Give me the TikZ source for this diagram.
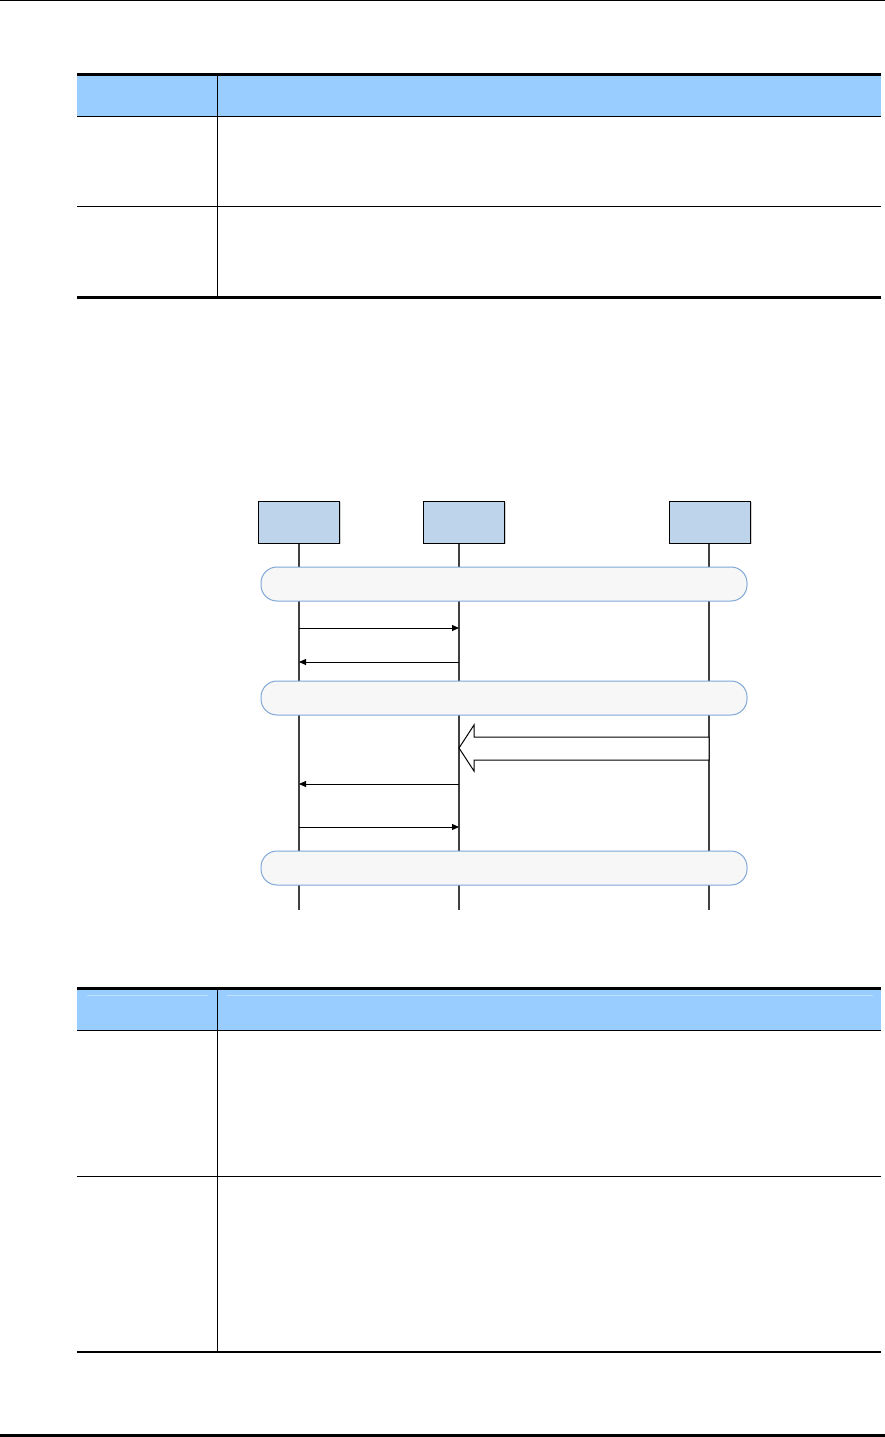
\documentclass[tikz,border=0pt]{standalone}
\usepackage{tikz}
\usetikzlibrary{arrows.meta,positioning,shadows}
\definecolor{hdrblue}{RGB}{153,204,255}
\definecolor{hdrline}{RGB}{190,224,255}
\definecolor{boxblue}{RGB}{190,212,234}
\definecolor{bandfill}{RGB}{247,247,247}
\definecolor{bandline}{RGB}{126,166,216}
\definecolor{lifegray}{RGB}{64,64,64}

\begin{document}
\begin{tikzpicture}[x=1pt,y=-1pt,
  ent/.style={draw,fill=boxblue,line width=0.9pt,
              minimum width=81pt,minimum height=42pt,inner sep=0pt,
              drop shadow={shadow xshift=1.2pt,shadow yshift=-1.2pt,fill=gray!70}},
  band/.style={draw=bandline,fill=bandfill,line width=1pt,
               rounded corners=16pt,minimum width=486pt,
               minimum height=34pt,inner sep=0pt},
  life/.style={lifegray,line width=1.3pt},
  arr/.style={-{Triangle[length=7pt,width=6pt]},line width=1pt},
  fat/.style={draw,line width=1pt,fill=white},
  rule/.style={line width=2.5pt},
  hair/.style={line width=0.8pt}
]
\useasboundingbox (0,0) rectangle (885,1437);

% Page rules
\draw[line width=1.5pt] (0,0.75) -- (885,0.75);
\draw[line width=3pt] (0,1435.5) -- (885,1435.5);

% ---- Table 1 ----
\fill[hdrblue] (77,75) rectangle (881,116);
\draw[rule] (77,74.5) -- (881,74.5);
\draw[hair] (77,116) -- (881,116);
\draw[hair] (77,206) -- (881,206);
\draw[rule] (77,297.5) -- (881,297.5);
\draw[hair] (217,75) -- (217,297);

% ---- Table 2 ----
\fill[hdrblue] (77,990) rectangle (881,1030);
\draw[hdrline,line width=0.8pt] (87,995) -- (208,995);
\draw[hdrline,line width=0.8pt] (227,995) -- (873,995);
\draw[rule] (77,988.5) -- (881,988.5);
\draw[hair] (77,1030) -- (881,1030);
\draw[hair] (77,1176) -- (881,1176);
\draw[rule] (77,1352) -- (881,1352);
\draw[hair] (217,990) -- (217,1352);

% Lifeline end points
\coordinate (Ltop) at (299,543);
\coordinate (Mtop) at (459,543);
\coordinate (Rtop) at (709,543);
\coordinate (Lend) at (299,910);
\coordinate (Mend) at (459,910);
\coordinate (Rend) at (709,910);

% Lifelines
\draw[life] (Ltop) -- (Lend);
\draw[life] (Mtop) -- (Mend);
\draw[life] (Rtop) -- (Rend);

% Entity boxes
\node[ent] (left)  at (299,522) {};
\node[ent] (mid)   at (464,522) {};
\node[ent] (right) at (710,522) {};

% Phase bands
\node[band] (band1) at (504,584) {};
\node[band] (band2) at (504,698) {};
\node[band] (band3) at (504,868) {};

% Message points
\foreach \n/\y in {1/628,2/662,3/784,4/827}{
  \coordinate (L\n) at (299,\y);
  \coordinate (M\n) at (459,\y);
}

% Messages
\draw[arr] (L1) -- (M1);
\draw[arr] (M2) -- (L2);
\draw[arr] (M3) -- (L3);
\draw[arr] (L4) -- (M4);

% Block arrow right -> mid
\coordinate (tip) at (459,748);
\draw[fat] (709,737) -- (474,737) -- (474,725) -- (tip)
  -- (474,771) -- (474,760) -- (709,760) -- cycle;

\end{tikzpicture}
\end{document}
